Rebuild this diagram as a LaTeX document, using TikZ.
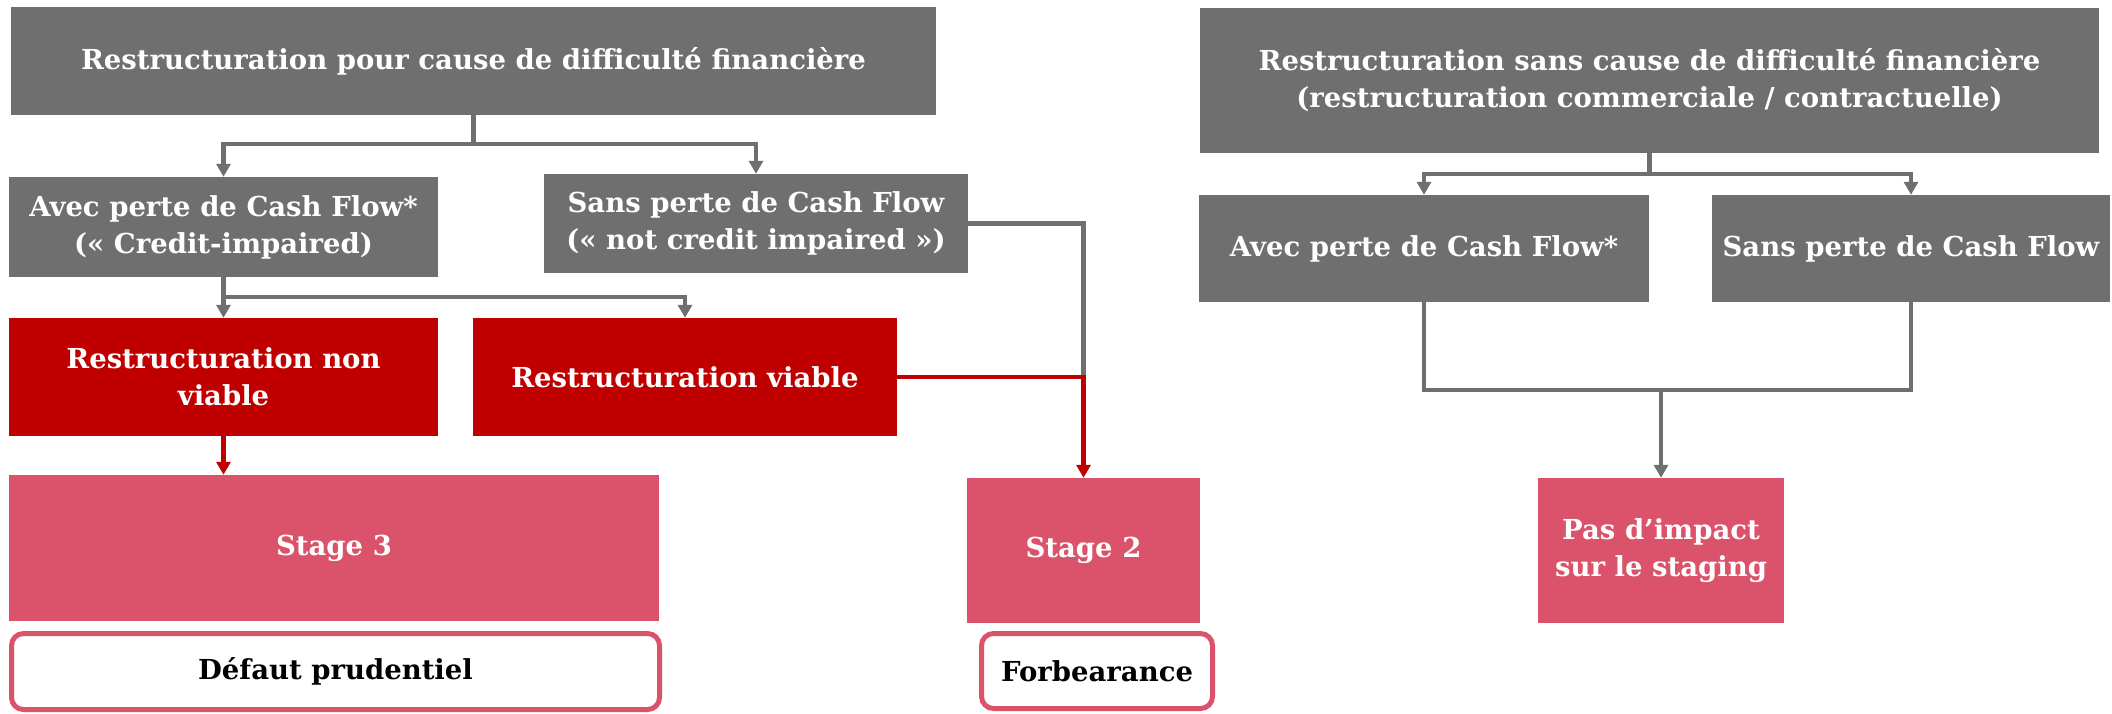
\documentclass[tikz,border=0pt]{standalone}
\usepackage{fontspec}
\setmainfont{DejaVu Serif}
\usetikzlibrary{arrows.meta,positioning}

\definecolor{boxgray}{RGB}{111,111,111}
\definecolor{boxred}{RGB}{192,0,0}
\definecolor{boxpink}{RGB}{219,83,106}

\begin{document}
\begin{tikzpicture}[x=1pt,y=-1pt]
\tikzstyle{greybox} = [
	shape=rectangle,
	fill=boxgray, %grey background
	text=white,
	font=\fontsize{27.5}{37}\selectfont\bfseries,
	align=center,
	inner sep=0pt
];
\tikzstyle{redbox} = [greybox, fill=boxred];
\tikzstyle{stagebox} = [greybox, fill=boxpink];
\tikzstyle{labelbox} = [greybox, fill=white, draw=boxpink, line width=5pt, rounded corners=12pt, text=black];

\useasboundingbox (0,0) rectangle (2112,713);

%left tree
\node[greybox, minimum width=925pt, minimum height=108pt](Top1) at (473.5,61) {Restructuration pour cause de difficulté financière};
\node[greybox, minimum width=429pt, minimum height=100pt](Avec1) at (223.5,227) {Avec perte de Cash Flow*\\(« Credit-impaired)};
\node[greybox, minimum width=424pt, minimum height=99pt](Sans1) at (756,223.5) {Sans perte de Cash Flow\\(« not credit impaired »)};
\node[redbox, minimum width=429pt, minimum height=118pt](NonViable) at (223.5,377) {Restructuration non\\viable};
\node[redbox, minimum width=424pt, minimum height=118pt](Viable) at (685,377) {Restructuration viable};
\node[stagebox, minimum width=650pt, minimum height=146pt](Stage3) at (334,548) {Stage 3};
\node[stagebox, minimum width=233pt, minimum height=145pt](Stage2) at (1083.5,550.5) {Stage 2};
\node[labelbox, minimum width=648pt, minimum height=76pt](Defaut) at (335.5,671.5) {Défaut prudentiel};
\node[labelbox, minimum width=231pt, minimum height=75pt](Forb) at (1097,671) {Forbearance};

%right tree
\node[greybox, minimum width=899pt, minimum height=145pt](Top2) at (1649.5,80.5) {Restructuration sans cause de difficulté financière\\(restructuration commerciale / contractuelle)};
\node[greybox, minimum width=450pt, minimum height=107pt](Avec2) at (1424,248.5) {Avec perte de Cash Flow*};
\node[greybox, minimum width=398pt, minimum height=107pt](Sans2) at (1911,248.5) {Sans perte de Cash Flow};
\node[stagebox, minimum width=246pt, minimum height=145pt](Pas) at (1661,550.5) {Pas d’impact\\sur le staging};

\coordinate (J1) at (Top1.south |- 0,144);
\coordinate (J2) at (Avec1.south |- 0,297);
\coordinate (J3) at (Stage2.north |- Viable.east);
\coordinate (J4) at (Top2.south |- 0,174);
\coordinate (J5) at (Pas.north |- 0,390);

%grey links
\draw[line width=4.5pt, color=boxgray] (Top1.south) -- (J1);
\draw[-{Triangle[length=13pt,width=14pt]}, line width=4.5pt, color=boxgray] (J1) -| (Avec1.north);
\draw[-{Triangle[length=13pt,width=14pt]}, line width=4.5pt, color=boxgray] (J1) -| (Sans1.north);
\draw[-{Triangle[length=13pt,width=14pt]}, line width=4.5pt, color=boxgray] (Avec1.south) -- (NonViable.north);
\draw[-{Triangle[length=13pt,width=14pt]}, line width=4.5pt, color=boxgray] (J2) -| (Viable.north);
\draw[line width=4.5pt, color=boxgray] (Sans1.east) -| (J3);

%red links
\draw[-{Triangle[length=13pt,width=14pt]}, line width=4.5pt, color=boxred] (NonViable.south) -- (NonViable.south |- Stage3.north);
\draw[-{Triangle[length=13pt,width=14pt]}, line width=4.5pt, color=boxred] (Viable.east) -| (Stage2.north);

%right links
\draw[line width=4.5pt, color=boxgray] (Top2.south) -- (J4);
\draw[-{Triangle[length=13pt,width=14pt]}, line width=4.5pt, color=boxgray] (J4) -| (Avec2.north);
\draw[-{Triangle[length=13pt,width=14pt]}, line width=4.5pt, color=boxgray] (J4) -| (Sans2.north);
\draw[line width=4.5pt, color=boxgray] (Avec2.south) |- (J5);
\draw[line width=4.5pt, color=boxgray] (Sans2.south) |- (J5);
\draw[-{Triangle[length=13pt,width=14pt]}, line width=4.5pt, color=boxgray] (J5) -- (Pas.north);

\end{tikzpicture}
\end{document}
